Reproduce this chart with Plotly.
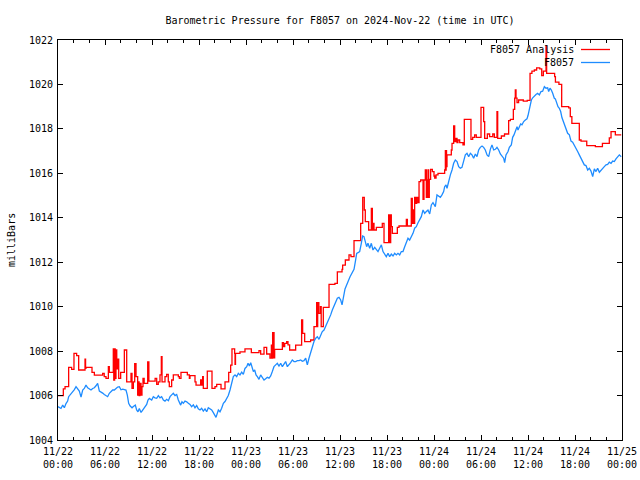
import pandas as pd
import plotly.graph_objects as go

# ---------------- data (hours after 2024-11-22 00:00 UTC, millibars) ----------------
RED_HOURS = [
    0, 0.68, 0.9, 1.36, 1.74, 2.04, 2.38, 2.64, 3.45, 3.52, 3.57, 4.34, 4.64, 5.7, 5.9,
    6.13, 6.43, 6.55, 7.06, 7.12, 7.23, 7.3, 7.4, 7.5, 7.66, 7.75, 8.0, 8.47, 8.77,
    9.32, 9.45, 9.62, 9.79, 9.96, 10.17, 10.25, 10.35, 10.45, 10.6, 10.72, 10.85, 11.0,
    11.45, 11.6,
    12.4, 12.6, 12.8, 13.02, 13.19, 13.28, 13.66, 13.87, 14.08, 14.21, 14.51, 14.72,
    15.36, 15.49, 15.7, 16.51, 16.77, 16.85, 17.49, 17.62, 18.21, 18.34, 18.47, 18.55,
    19.06, 19.66, 20.04, 20.26, 20.81, 21.32, 21.79, 22.04, 22.21, 22.55, 22.6, 22.66,
    23.23, 23.87,
    24.68, 25.66, 25.87, 26.3, 26.64, 27.06, 27.24, 27.32, 27.4, 27.45, 27.5, 27.58,
    27.66, 28.64, 28.77, 28.94, 29.19, 29.36, 29.57, 30.34, 31.1, 31.23, 31.49, 32.25,
    32.68, 33.02, 33.1, 33.15, 33.3, 33.5, 33.6, 33.87, 34.6, 35.35, 35.66,
    36.26, 36.34, 36.68, 37.15, 37.4, 37.79, 38.64, 38.9, 39.1, 39.23, 39.66, 40.0,
    40.13, 40.25, 40.34, 40.64, 41.4, 41.62, 42.21, 42.34, 42.47, 42.55, 42.68, 43.32,
    43.53, 44.47, 44.6, 45.1, 45.23, 45.32, 45.45, 45.53, 45.66, 45.79, 45.96, 46.09,
    46.3, 46.6, 46.72, 46.89, 47.02, 47.15, 47.23, 47.32, 47.4, 47.57, 47.79, 48.0,
    48.09, 48.26, 48.51, 49.36, 49.45, 49.5, 49.55, 49.6, 49.66, 50.21, 50.3, 50.51,
    50.64, 50.81, 50.94, 51.06, 51.28, 51.7, 51.87, 52.72, 52.94, 53.19, 53.4, 54.0,
    54.34, 54.47, 54.81, 55.1, 55.5, 55.7, 56.04, 56.13, 56.6, 57.0, 57.53, 57.75,
    58.13, 58.3, 58.38, 58.47, 58.6, 58.8, 59.4, 59.9,
    60.26, 60.5, 60.81, 61.1, 61.5, 61.75, 61.96, 62.3, 62.38, 63.4, 63.5, 63.95,
    64.3, 65.2, 65.4, 65.6, 66.55, 66.77, 67.5, 68.6, 69.5, 70.38, 70.6, 71.15, 71.9,
]
RED_VALUES = [
    1006.0, 1006.3, 1006.4, 1007.27, 1007.18, 1007.9, 1007.8, 1007.15, 1007.64, 1007.22,
    1007.27, 1007.04, 1006.92, 1007.0, 1006.85, 1006.77, 1007.3, 1007.04, 1008.1, 1006.7,
    1008.1, 1006.77, 1008.05, 1007.2, 1007.64, 1006.77, 1007.04, 1008.05, 1006.62,
    1007.0, 1006.32, 1006.62, 1007.44, 1006.85, 1006.02, 1006.62, 1006.0, 1006.55,
    1006.02, 1006.4, 1006.77, 1006.55, 1007.52, 1006.65,
    1006.77, 1006.5, 1006.62, 1006.93, 1007.75, 1006.62, 1006.85, 1006.95, 1006.62,
    1006.4, 1006.7, 1006.93, 1006.85, 1006.77, 1007.04, 1006.93, 1006.77, 1006.9,
    1006.62, 1006.47, 1006.7, 1006.47, 1006.85, 1006.32, 1007.1, 1006.32, 1006.4,
    1006.5, 1006.3, 1006.62, 1007.04, 1007.37, 1008.1, 1007.9, 1007.4, 1007.9,
    1007.97, 1008.1,
    1007.93, 1008.02, 1007.86, 1008.17, 1007.87, 1007.68, 1008.27, 1007.68, 1008.83,
    1007.7, 1008.83, 1007.7, 1008.08, 1008.38, 1008.2, 1008.35, 1008.43, 1008.28,
    1008.05, 1008.27, 1009.4, 1008.8, 1008.43, 1008.5, 1009.1, 1010.18, 1009.1,
    1010.18, 1009.7, 1010.0, 1009.1, 1009.97, 1011.0, 1011.05, 1011.57,
    1011.68, 1011.87, 1012.1, 1012.33, 1012.25, 1012.97, 1013.75, 1014.92, 1014.35,
    1013.83, 1013.45, 1014.42, 1013.45, 1013.75, 1013.45, 1013.57, 1013.75, 1012.88,
    1014.13, 1012.88, 1014.13, 1013.6, 1013.3, 1013.57, 1013.63, 1013.93, 1013.63,
    1014.87, 1013.75, 1014.35, 1013.75, 1014.92, 1014.65, 1014.92, 1014.68, 1015.63,
    1015.7, 1014.83, 1015.7, 1016.15, 1014.92, 1015.7, 1016.15, 1014.92, 1015.73,
    1016.18, 1016.08, 1015.88,
    1015.78, 1015.93, 1016.0, 1016.15, 1017.02, 1016.15, 1017.02, 1016.3, 1016.83,
    1017.05, 1017.35, 1018.13, 1017.43, 1017.57, 1017.38, 1017.5, 1017.38, 1017.28,
    1018.43, 1017.53, 1017.62, 1017.73, 1017.62, 1018.97, 1018.33, 1017.57, 1017.77,
    1017.65, 1017.77, 1017.62, 1018.78, 1017.57, 1017.68, 1017.77, 1018.37, 1018.43,
    1018.88, 1019.38, 1019.75, 1019.38, 1019.18, 1019.3, 1019.25, 1019.28,
    1020.5, 1020.6, 1020.65, 1020.75, 1020.7, 1020.4, 1020.6, 1021.73, 1020.5,
    1020.35, 1020.1, 1020.0, 1019.0, 1018.95, 1018.55, 1018.25, 1017.5, 1017.45,
    1017.25, 1017.2, 1017.35, 1017.6, 1017.88, 1017.73, 1017.73,
]

BLUE_HOURS = [
    0.0, 0.38, 0.6, 0.81, 1.02, 1.23, 1.36, 1.53, 1.79, 2.09, 2.3, 2.51, 2.72, 2.94,
    3.15, 3.36, 3.57, 3.79, 4.0, 4.21, 4.43, 4.64, 4.85, 5.06, 5.28, 5.49, 5.7, 5.91,
    6.13, 6.34, 6.55, 6.77, 6.98, 7.19, 7.4, 7.62, 7.83, 8.04, 8.26, 8.47, 8.68, 8.85,
    9.02, 9.19, 9.45, 9.62, 9.87, 10.04, 10.21, 10.38, 10.6, 10.72, 10.89, 11.1, 11.32,
    11.49, 11.66,
    11.96, 12.17, 12.38, 12.6, 12.81, 13.02, 13.23, 13.45, 13.66, 13.87, 14.09, 14.3,
    14.51, 14.72, 14.94, 15.15, 15.36, 15.49, 15.66, 15.83, 16.0, 16.21, 16.43, 16.64,
    16.85, 17.06, 17.28, 17.49, 17.7, 17.91, 18.13, 18.34, 18.55, 18.77, 18.98, 19.19,
    19.4, 19.62, 19.83, 20.04, 20.17, 20.47, 20.68, 20.89, 21.11, 21.32, 21.53, 21.74,
    21.96, 22.17, 22.38, 22.6, 22.81, 23.02, 23.23, 23.45, 23.66, 23.87,
    24.09, 24.26, 24.43, 24.6, 24.77, 24.94, 25.11, 25.28, 25.45, 25.66, 25.87, 26.09,
    26.3, 26.51, 26.72, 26.94, 27.15, 27.36, 27.57, 27.79, 28.0, 28.21, 28.43, 28.64,
    28.85, 29.06, 29.28, 29.49, 29.7, 29.91, 30.13, 30.34, 30.55, 30.77, 30.98, 31.19,
    31.4, 31.62, 31.83, 32.04, 32.26, 32.47, 32.68, 32.9, 33.11, 33.32, 33.53, 33.74,
    33.96, 34.17, 34.38, 34.6, 34.81, 35.02, 35.23, 35.45, 35.66, 35.87, 36.09, 36.26,
    36.64, 37.28, 37.79, 37.96, 38.13, 38.3, 38.51, 38.72, 38.89, 39.06, 39.23, 39.4,
    39.57, 39.79, 40.0, 40.21, 40.43, 40.64, 40.85, 41.06, 41.28, 41.49, 41.7, 41.91,
    42.13, 42.34, 42.55, 42.77, 42.98, 43.19, 43.4, 43.62, 43.83, 44.04, 44.26, 44.47,
    44.68, 44.89, 45.11, 45.32, 45.53, 45.74, 45.96, 46.17, 46.38, 46.6, 46.81, 47.02,
    47.23, 47.45, 47.66, 47.87,
    48.17, 48.38, 48.6, 48.81, 49.02, 49.23, 49.36, 49.53, 49.66, 49.87, 50.09, 50.3,
    50.51, 50.72, 50.94, 51.15, 51.36, 51.57, 51.79, 52.0, 52.21, 52.43, 52.64, 52.85,
    53.06, 53.28, 53.49, 53.7, 53.91, 54.13, 54.34, 54.55, 54.77, 54.98, 55.19, 55.4,
    55.62, 55.83, 56.04, 56.26, 56.47, 56.68, 56.89, 57.02, 57.19, 57.45, 57.62, 57.87,
    58.04, 58.21, 58.38, 58.6, 58.72, 58.89, 59.06, 59.23, 59.45, 59.66,
    59.87, 60.0, 60.17, 60.34, 60.43, 60.6, 60.81, 61.02, 61.23, 61.45, 61.66, 61.87,
    62.09, 62.3, 62.51, 62.64, 62.81, 62.98, 63.15, 63.36, 63.49, 63.66, 63.83, 64.0,
    64.17, 64.34, 64.51, 64.68, 64.85, 65.06, 65.28, 65.49, 65.7, 65.91, 66.13, 66.34,
    66.55, 66.77, 66.98, 67.19, 67.4, 67.62, 67.83, 68.04, 68.26, 68.47, 68.68, 68.89,
    69.11, 69.32, 69.53, 69.74, 69.96, 70.17, 70.38, 70.6, 70.81, 71.02, 71.23, 71.45,
    71.66, 71.9,
]
BLUE_VALUES = [
    1005.50, 1005.42, 1005.57, 1005.45, 1005.64, 1005.75, 1005.95, 1006.02, 1006.10,
    1006.27, 1006.40, 1006.29, 1006.20, 1005.93, 1006.25, 1006.32, 1006.47, 1006.35,
    1006.29, 1006.25, 1006.32, 1006.35, 1006.44, 1006.55, 1006.20, 1006.17, 1006.11,
    1006.05, 1006.0, 1005.95, 1006.10, 1006.20, 1006.25, 1006.25, 1006.32, 1006.38,
    1006.40, 1006.26, 1006.29, 1006.26, 1006.25, 1006.02, 1005.65, 1005.54, 1005.45,
    1005.51, 1005.57, 1005.35, 1005.27, 1005.42, 1005.24, 1005.30, 1005.39, 1005.5,
    1005.6, 1005.80, 1005.87,
    1005.8, 1005.95, 1005.9, 1005.88, 1006.0, 1005.9, 1005.95, 1005.8, 1005.75, 1005.83,
    1005.77, 1005.95, 1006.03, 1006.1, 1006.0, 1006.05, 1005.8, 1005.68, 1005.57,
    1005.72, 1005.65, 1005.75, 1005.72, 1005.65, 1005.6, 1005.5, 1005.58, 1005.45,
    1005.55, 1005.4, 1005.35, 1005.43, 1005.3, 1005.4, 1005.27, 1005.45, 1005.4,
    1005.35, 1005.23, 1005.08, 1005.02, 1005.35, 1005.27, 1005.43, 1005.65, 1005.73,
    1005.88, 1006.0, 1006.25, 1006.55, 1006.85, 1006.93, 1006.85, 1007.0, 1006.93,
    1007.05, 1006.95, 1007.22,
    1007.3, 1007.45, 1007.33, 1007.48, 1007.3, 1007.08, 1007.15, 1006.93, 1006.85,
    1006.73, 1006.93, 1006.78, 1006.7, 1006.76, 1006.82, 1006.78, 1006.88, 1007.08,
    1007.3, 1007.38, 1007.45, 1007.33, 1007.45, 1007.3, 1007.42, 1007.53, 1007.3,
    1007.38, 1007.48, 1007.6, 1007.53, 1007.53, 1007.57, 1007.57, 1007.6, 1007.54,
    1007.57, 1007.68, 1007.38, 1007.68, 1007.97, 1008.27, 1008.43, 1008.58, 1008.65,
    1008.53, 1008.73, 1008.88, 1008.95, 1009.1, 1009.28, 1009.48, 1009.63, 1009.85,
    1010.0, 1010.18, 1010.38, 1010.42, 1010.3, 1010.08,
    1010.8, 1011.35, 1011.68, 1012.03, 1012.4, 1012.43, 1012.48, 1012.85, 1013.18,
    1013.15, 1012.93, 1012.7, 1012.85, 1012.63, 1012.85, 1012.55, 1012.67, 1012.55,
    1012.48, 1012.63, 1012.78, 1012.48, 1012.33, 1012.25, 1012.4, 1012.25, 1012.37,
    1012.28, 1012.4, 1012.33, 1012.4, 1012.33, 1012.48, 1012.48, 1012.7, 1012.93,
    1013.08, 1013.0, 1013.15, 1013.3, 1013.53, 1013.6, 1013.78, 1013.9, 1014.05,
    1014.35, 1014.2, 1014.28, 1014.35, 1014.17, 1014.58, 1014.68,
    1014.5, 1015.03, 1014.95, 1014.92, 1015.03, 1015.18, 1015.4, 1015.48, 1015.33,
    1015.7, 1015.93, 1016.15, 1016.45, 1016.6, 1016.53, 1016.3, 1016.23, 1016.27,
    1016.53, 1016.83, 1016.9, 1016.75, 1016.9, 1016.83, 1016.68, 1016.87, 1016.75,
    1017.05, 1017.17, 1017.23, 1017.17, 1017.05, 1016.83, 1016.75, 1017.08, 1017.28,
    1017.05, 1017.08, 1017.17, 1017.05, 1016.87, 1016.78, 1016.68, 1016.48, 1016.83,
    1016.98, 1017.17, 1017.28, 1017.62, 1017.73, 1017.88, 1018.1, 1017.95, 1018.13,
    1018.22, 1018.18, 1018.33, 1018.4,
    1018.45, 1018.6, 1018.85, 1019.1, 1019.3, 1019.4, 1019.5, 1019.55, 1019.6, 1019.53,
    1019.68, 1019.7, 1019.9, 1019.83, 1019.85, 1019.68, 1019.83, 1019.75, 1019.6,
    1019.38, 1019.35, 1019.15, 1019.0, 1018.93, 1018.78, 1018.5, 1018.33, 1018.18,
    1017.95, 1017.8, 1017.73, 1017.45, 1017.4, 1017.28, 1017.13, 1016.98, 1016.83,
    1016.68, 1016.55, 1016.38, 1016.35, 1016.15, 1016.23, 1016.1, 1015.85, 1016.2,
    1016.08, 1016.23, 1016.05, 1016.15, 1016.23, 1016.3, 1016.38, 1016.4, 1016.5,
    1016.45, 1016.55, 1016.53, 1016.65, 1016.75, 1016.83, 1016.75,
]

X_TICK_HOURS = [0, 6, 12, 18, 24, 30, 36, 42, 48, 54, 60, 66, 72]
Y_TICKS = [1004, 1006, 1008, 1010, 1012, 1014, 1016, 1018, 1020, 1022]
TITLE = "Barometric Pressure for F8057 on 2024-Nov-22 (time in UTC)"
NAME_RED = "F8057 Analysis"
NAME_BLUE = "F8057"
BASE = pd.Timestamp("2024-11-22 00:00")

# ---------------- figure ----------------
FONT = "DejaVu Sans Mono"
RED = "#ff0000"
BLUE = "#1e8cff"


def to_time(hours):
    return BASE + pd.to_timedelta(pd.Series(hours, dtype=float), unit="h")


red_t = to_time(RED_HOURS)
blue_t = to_time(BLUE_HOURS)
tick_t = to_time(X_TICK_HOURS)
tick_text = [t.strftime("%m/%d") + "<br>" + t.strftime("%H:%M") for t in tick_t]

fig = go.Figure()
fig.add_trace(go.Scatter(x=red_t, y=RED_VALUES, mode="lines", name=NAME_RED,
                         line=dict(color=RED, width=1.3, shape="hv")))
fig.add_trace(go.Scatter(x=blue_t, y=BLUE_VALUES, mode="lines", name=NAME_BLUE,
                         line=dict(color=BLUE, width=1.3)))

fig.update_layout(
    width=640, height=480,
    margin=dict(l=58, r=18, t=40, b=40, autoexpand=False),
    paper_bgcolor="white", plot_bgcolor="white",
    showlegend=False,
    font=dict(family=FONT, size=10, color="black"),
    title=dict(text=TITLE, x=0.5, xanchor="center", xref="paper",
               y=1 - 20 / 480, yanchor="middle", yref="container",
               font=dict(family=FONT, size=10, color="black")),
)

fig.update_xaxes(
    type="date", automargin=False,
    range=[tick_t.iloc[0], tick_t.iloc[-1]],
    tickvals=list(tick_t), ticktext=tick_text,
    ticks="inside", ticklen=5, tickcolor="black", tickwidth=1,
    minor=dict(ticks="inside", ticklen=3, dtick=2 * 3600 * 1000, tickcolor="black"),
    showline=True, linecolor="black", linewidth=1, mirror="allticks",
    showgrid=False, zeroline=False,
    tickfont=dict(family=FONT, size=10, color="black"),
    ticklabelstandoff=2, ticklabeloverflow="allow",
)
fig.update_yaxes(
    automargin=False,
    range=[Y_TICKS[0], Y_TICKS[-1]],
    tickvals=Y_TICKS, ticktext=[str(v) for v in Y_TICKS],
    ticks="inside", ticklen=5, tickcolor="black", tickwidth=1,
    showline=True, linecolor="black", linewidth=1, mirror="allticks",
    showgrid=False, zeroline=False,
    tickfont=dict(family=FONT, size=10, color="black"),
    ticklabelstandoff=2,
)

# y axis label
fig.add_annotation(text="milliBars", xref="paper", yref="paper", x=(11 - 58) / 564, y=0.5,
                   xanchor="center", yanchor="middle", textangle=-90, showarrow=False,
                   font=dict(family=FONT, size=10, color="black"))

# gnuplot-style key (text right, sample line right of text)
for i, (name, color) in enumerate([(NAME_RED, RED), (NAME_BLUE, BLUE)]):
    ypix = 49.5 + 13 * i
    yp = (440 - ypix) / 400
    fig.add_annotation(text=name, xref="paper", yref="paper", x=(576 - 58) / 564, y=yp,
                       xanchor="right", yanchor="middle", showarrow=False,
                       font=dict(family=FONT, size=10, color="black"))
    fig.add_shape(type="line", xref="paper", yref="paper",
                  x0=(581 - 58) / 564, x1=(610 - 58) / 564, y0=yp, y1=yp,
                  line=dict(color=color, width=1.3))

# remove the page's default body margin so the 640x480 figure fills the window
fig.write_html("out.html",
               config={"displayModeBar": False, "staticPlot": True},
               post_script="document.body.style.margin='0';document.body.style.overflow='hidden';")
